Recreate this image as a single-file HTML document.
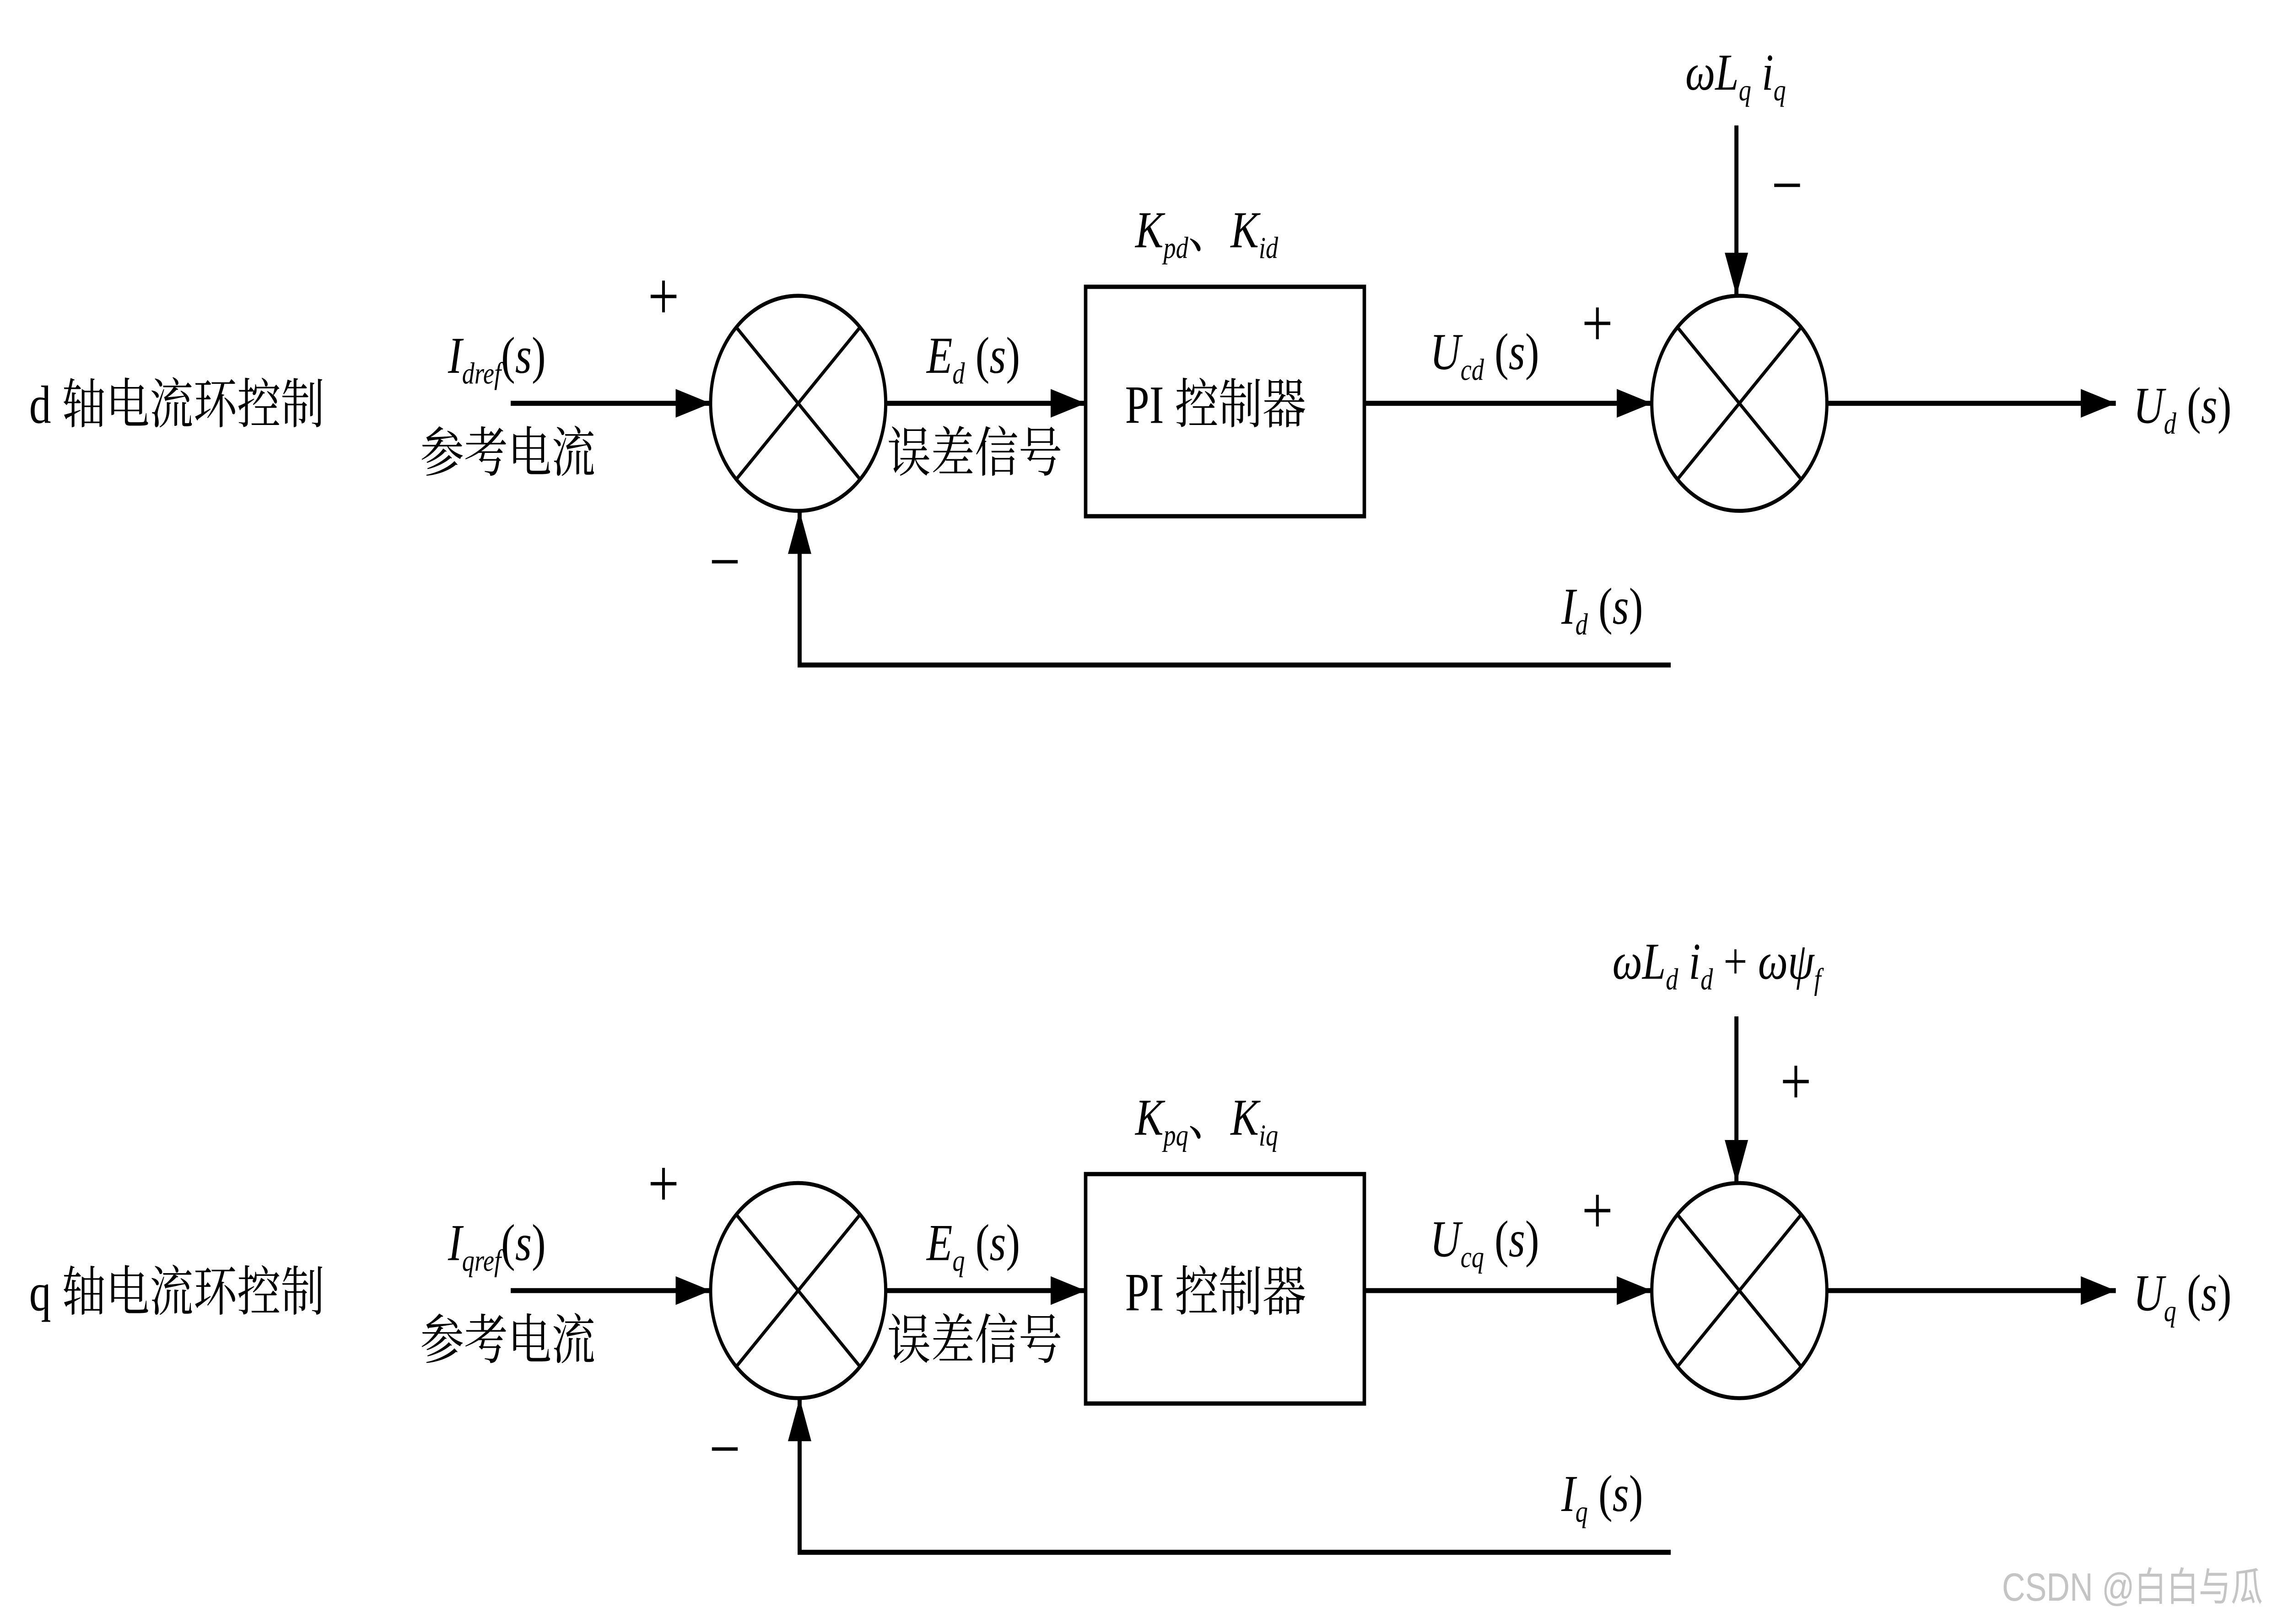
<!DOCTYPE html>
<html><head><meta charset="utf-8"><style>
html,body{margin:0;padding:0;background:#fff;width:100%;height:100%;overflow:hidden}
svg{display:block;position:absolute;left:0;top:0;width:100vw;height:100vh}
text{font-family:"Liberation Serif","Noto Serif CJK SC",serif;fill:#000}
.m{font-style:italic}
.cj{font-family:"Liberation Serif","Noto Serif CJK SC","Noto Sans CJK SC",serif}
</style></head><body>
<svg viewBox="0 0 1568 906" preserveAspectRatio="none" xmlns="http://www.w3.org/2000/svg">
<defs>
<marker id="a" viewBox="0 0 24 16" refX="24" refY="8" markerWidth="24" markerHeight="16" markerUnits="userSpaceOnUse" orient="auto">
<path d="M0,0 L24,8 L0,16 Z" fill="#000"/></marker>
<g id="row">
<circle cx="547" cy="225" r="60" fill="none" stroke="#000" stroke-width="2.2"/>
<line x1="505" y1="183" x2="589" y2="267" stroke="#000" stroke-width="2"/>
<line x1="589" y1="183" x2="505" y2="267" stroke="#000" stroke-width="2"/>
<circle cx="1192" cy="225" r="60" fill="none" stroke="#000" stroke-width="2.2"/>
<line x1="1150" y1="183" x2="1234" y2="267" stroke="#000" stroke-width="2"/>
<line x1="1234" y1="183" x2="1150" y2="267" stroke="#000" stroke-width="2"/>
<rect x="744" y="160" width="191" height="128" fill="none" stroke="#000" stroke-width="2.4"/>
<g stroke="#000" stroke-width="2.8" fill="none">
<line x1="350" y1="225" x2="487" y2="225" marker-end="url(#a)"/>
<line x1="607" y1="225" x2="744" y2="225" marker-end="url(#a)"/>
<line x1="935" y1="225" x2="1132" y2="225" marker-end="url(#a)"/>
<line x1="1252" y1="225" x2="1450" y2="225" marker-end="url(#a)"/>
<polyline points="1145,371 548,371 548,285" marker-end="url(#a)"/>
</g>
<text x="444" y="178" font-size="38">+</text>
<text x="486" y="326" font-size="38">−</text>
<text x="1084" y="193" font-size="38">+</text>
<text x="771" y="236" font-size="30" class="cj">PI 控制器</text>
<text x="288" y="263" font-size="30" class="cj">参考电流</text>
<text x="608" y="263" font-size="30" class="cj">误差信号</text>
</g>
</defs>
<use href="#row"/>
<use href="#row" y="495"/>
<text x="20" y="236" font-size="30" class="cj">d 轴电流环控制</text>
<text x="307" y="208" font-size="29"><tspan class="m">I</tspan><tspan class="m" font-size="17" dy="6">dref</tspan><tspan dy="-6">(</tspan><tspan class="m">s</tspan>)</text>
<text x="635" y="208" font-size="29"><tspan class="m">E</tspan><tspan class="m" font-size="17" dy="6">d</tspan><tspan dy="-6"> (</tspan><tspan class="m">s</tspan>)</text>
<text x="778" y="138" font-size="29"><tspan class="m">K</tspan><tspan class="m" font-size="17" dy="6">pd</tspan><tspan dy="-6" class="cj">、</tspan><tspan class="m">K</tspan><tspan class="m" font-size="17" dy="6">id</tspan></text>
<text x="980" y="206" font-size="29"><tspan class="m">U</tspan><tspan class="m" font-size="17" dy="6">cd</tspan><tspan dy="-6"> (</tspan><tspan class="m">s</tspan>)</text>
<text x="1462" y="236" font-size="29"><tspan class="m">U</tspan><tspan class="m" font-size="17" dy="6">d</tspan><tspan dy="-6"> (</tspan><tspan class="m">s</tspan>)</text>
<text x="1070" y="348" font-size="29"><tspan class="m">I</tspan><tspan class="m" font-size="17" dy="6">d</tspan><tspan dy="-6"> (</tspan><tspan class="m">s</tspan>)</text>
<text x="1155" y="50" font-size="29"><tspan class="m">ωL</tspan><tspan class="m" font-size="17" dy="6">q</tspan><tspan dy="-6" class="m"> i</tspan><tspan class="m" font-size="17" dy="6">q</tspan></text>
<line x1="1190" y1="70" x2="1190" y2="165" stroke="#000" stroke-width="2.8" marker-end="url(#a)"/>
<text x="1214" y="116" font-size="38">−</text>
<text x="20" y="731" font-size="30" class="cj">q 轴电流环控制</text>
<text x="307" y="703" font-size="29"><tspan class="m">I</tspan><tspan class="m" font-size="17" dy="6">qref</tspan><tspan dy="-6">(</tspan><tspan class="m">s</tspan>)</text>
<text x="635" y="703" font-size="29"><tspan class="m">E</tspan><tspan class="m" font-size="17" dy="6">q</tspan><tspan dy="-6"> (</tspan><tspan class="m">s</tspan>)</text>
<text x="778" y="633" font-size="29"><tspan class="m">K</tspan><tspan class="m" font-size="17" dy="6">pq</tspan><tspan dy="-6" class="cj">、</tspan><tspan class="m">K</tspan><tspan class="m" font-size="17" dy="6">iq</tspan></text>
<text x="980" y="701" font-size="29"><tspan class="m">U</tspan><tspan class="m" font-size="17" dy="6">cq</tspan><tspan dy="-6"> (</tspan><tspan class="m">s</tspan>)</text>
<text x="1462" y="731" font-size="29"><tspan class="m">U</tspan><tspan class="m" font-size="17" dy="6">q</tspan><tspan dy="-6"> (</tspan><tspan class="m">s</tspan>)</text>
<text x="1070" y="843" font-size="29"><tspan class="m">I</tspan><tspan class="m" font-size="17" dy="6">q</tspan><tspan dy="-6"> (</tspan><tspan class="m">s</tspan>)</text>
<text x="1105" y="546" font-size="29"><tspan class="m">ωL</tspan><tspan class="m" font-size="17" dy="6">d</tspan><tspan dy="-6" class="m"> i</tspan><tspan class="m" font-size="17" dy="6">d</tspan><tspan dy="-6"> + </tspan><tspan class="m">ωψ</tspan><tspan class="m" font-size="17" dy="6">f</tspan></text>
<line x1="1190" y1="567" x2="1190" y2="660" stroke="#000" stroke-width="2.8" marker-end="url(#a)"/>
<text x="1220" y="616" font-size="38">+</text>
<text x="1372" y="893" font-size="22" style="fill:#c4c4c4;font-family:'Liberation Sans','Noto Sans CJK SC',sans-serif">CSDN @白白与瓜</text>
</svg>
</body></html>
